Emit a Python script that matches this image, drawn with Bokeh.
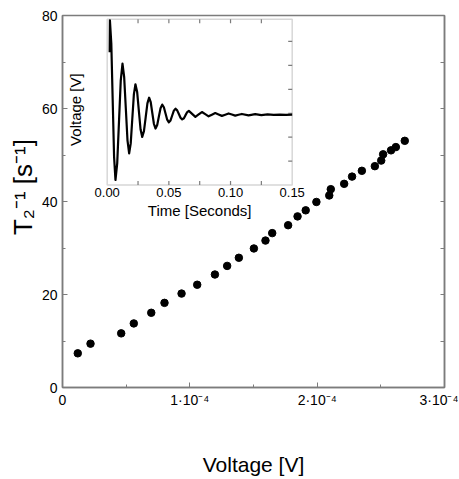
from bokeh.plotting import figure
from bokeh.models import (Range1d, FixedTicker, LinearAxis, CustomJSTickFormatter,
                          BoxAnnotation, Label)
from bokeh.embed import file_html
from bokeh.resources import INLINE
import math

# ---------------- data ----------------
voltage = [0.120e-4, 0.220e-4, 0.461e-4, 0.560e-4, 0.697e-4, 0.801e-4, 0.935e-4,
           1.058e-4, 1.197e-4, 1.293e-4, 1.385e-4, 1.503e-4, 1.594e-4, 1.647e-4,
           1.772e-4, 1.846e-4, 1.910e-4, 1.994e-4, 2.095e-4, 2.107e-4, 2.212e-4,
           2.274e-4, 2.351e-4, 2.453e-4, 2.503e-4, 2.518e-4, 2.580e-4, 2.618e-4,
           2.688e-4]
rate = [7.35, 9.43, 11.64, 13.78, 16.07, 18.2, 20.2, 22.1, 24.3, 26.15, 27.9,
        29.9, 31.6, 33.2, 34.9, 36.8, 38.1, 39.9, 41.3, 42.65, 43.8, 45.35, 46.6,
        47.6, 48.8, 50.15, 51.0, 51.7, 53.05]

sig_t = [0.0020, 0.0022, 0.00333, 0.00445, 0.00558, 0.0067, 0.00813, 0.00955,
         0.01098, 0.0124, 0.01375, 0.0151, 0.01645, 0.0178, 0.01908, 0.02035,
         0.02163, 0.0229, 0.02428, 0.02565, 0.02703, 0.0284, 0.0298, 0.0312,
         0.0326, 0.0340, 0.0353, 0.0366, 0.0379, 0.0392, 0.04055, 0.0419,
         0.04325, 0.0446, 0.04595, 0.0473, 0.04865, 0.0500, 0.05135, 0.0527,
         0.05405, 0.0554, 0.05675, 0.0581, 0.05945, 0.0608, 0.0622, 0.0635,
         0.0649, 0.0662, 0.06885, 0.0715, 0.07415, 0.0768, 0.0795, 0.0822,
         0.0849, 0.0876, 0.0903, 0.0930, 0.0957, 0.0984, 0.1011, 0.1038,
         0.1065, 0.1092, 0.1146, 0.120, 0.125, 0.130, 0.135, 0.140, 0.145, 0.150]
sig_v = [5.55, 6.88, 5.91, 3.55, 1.18, 0.21, 0.92, 2.64, 4.36, 5.07, 4.52, 3.20,
         1.87, 1.32, 1.74, 2.77, 3.79, 4.21, 3.89, 3.11, 2.33, 2.01, 2.25, 2.83,
         3.41, 3.65, 3.46, 3.00, 2.55, 2.36, 2.51, 2.86, 3.21, 3.36, 3.25, 2.99,
         2.73, 2.62, 2.70, 2.905, 3.11, 3.19, 3.12, 2.965, 2.81, 2.74, 2.79, 2.92,
         3.05, 3.10, 2.975, 2.85, 2.95, 3.05, 2.96, 2.87, 2.94, 3.01, 2.95, 2.89,
         2.94, 2.99, 2.945, 2.90, 2.935, 2.97, 2.91, 2.96, 2.92, 2.95, 2.93, 2.94,
         2.93, 2.94]

x_ticks = [0, 1e-4, 2e-4, 3e-4]
x_tick_labels = ["0", "1·10⁻⁴", "2·10⁻⁴", "3·10⁻⁴"]
x_minor = [0.5e-4, 1.5e-4, 2.5e-4]
y_ticks = [0, 20, 40, 60, 80]
y_minor = [10, 30, 50, 70]
y_right_ticks = [0, 10, 20, 30, 40, 50, 60, 70, 80]
x_title = "Voltage [V]"
y_title = "T₂⁻¹ [s⁻¹]"

inset_x_ticks = [0.0, 0.05, 0.10, 0.15]
inset_x_labels = ["0.00", "0.05", "0.10", "0.15"]
inset_x_marks = [0.025, 0.05, 0.075, 0.10, 0.125]
inset_y_marks = [1, 2, 3, 4, 5, 6]
inset_x_title = "Time [Seconds]"
inset_y_title = "Voltage [V]"

# ---------------- layout constants ----------------
FONT = "Liberation Sans"
GRAY = "#7c7c7c"
W, H = 458, 478
ML, MR, MT, MB = 62, 14, 15, 90
FW, FH = W - ML - MR, H - MT - MB          # frame size in px
# inset box inside the frame (px from frame left/top)
IL, IR, IT, IB = 44.7, 229.7, 3.7, 170.0
T0, T1 = 0.0, 0.15
V0, VPX = 0.0, 24.0
V1 = V0 + (IB - IT) / VPX
kt = (T1 - T0) / (IR - IL)
tx_start, tx_end = T0 - IL * kt, T1 + (FW - IR) * kt
ty_start, ty_end = V0 - (FH - IB) / VPX, V1 + IT / VPX

p = figure(width=W, height=H, x_range=Range1d(0, 3e-4), y_range=Range1d(0, 80),
           output_backend="svg", toolbar_location=None,
           min_border_left=ML, min_border_right=MR, min_border_top=MT,
           min_border_bottom=MB)
p.extra_x_ranges = {"tx": Range1d(tx_start, tx_end)}
p.extra_y_ranges = {"ty": Range1d(ty_start, ty_end)}
p.xgrid.visible = False
p.ygrid.visible = False
p.outline_line_color = GRAY
p.outline_line_width = 1.5
p.background_fill_color = "white"
p.border_fill_color = "white"

empty = CustomJSTickFormatter(code="return ''")
xfmt = CustomJSTickFormatter(args=dict(vals=x_ticks, labs=x_tick_labels), code="""
    for (let i = 0; i < vals.length; i++) {
        if (Math.abs(vals[i] - tick) < 1e-12) return labs[i];
    }
    return '';
""")

xa = p.xaxis[0]
xa.ticker = FixedTicker(ticks=x_ticks, minor_ticks=x_minor)
xa.formatter = xfmt
xa.major_tick_in, xa.major_tick_out = 5, 0
xa.minor_tick_in, xa.minor_tick_out = 3, 0
xa.axis_line_color = GRAY
xa.axis_line_width = 1.5
xa.major_tick_line_color = GRAY
xa.minor_tick_line_color = GRAY
xa.major_label_standoff = 4
xa.major_label_text_font = FONT
xa.major_label_text_font_size = "14px"
xa.major_label_text_color = "black"
xa.axis_label = x_title
xa.axis_label_text_font = FONT
xa.axis_label_text_font_size = "21px"
xa.axis_label_text_font_style = "normal"
xa.axis_label_text_color = "black"
xa.axis_label_standoff = 42

ya = p.yaxis[0]
ya.ticker = FixedTicker(ticks=y_ticks, minor_ticks=y_minor)
ya.major_tick_in, ya.major_tick_out = 5, 0
ya.minor_tick_in, ya.minor_tick_out = 3, 0
ya.axis_line_color = GRAY
ya.axis_line_width = 1.5
ya.major_tick_line_color = GRAY
ya.minor_tick_line_color = GRAY
ya.major_label_standoff = 5
ya.major_label_text_font = FONT
ya.major_label_text_font_size = "14px"
ya.major_label_text_color = "black"
# leading no-break spaces shift the centred title upwards, as in the reference
ya.axis_label = "\u00a0\u00a0\u00a0\u00a0" + y_title
ya.axis_label_text_font = FONT
ya.axis_label_text_font_size = "26px"
ya.axis_label_text_font_style = "normal"
ya.axis_label_text_color = "black"
ya.axis_label_standoff = 1

ra = LinearAxis(ticker=FixedTicker(ticks=y_right_ticks), formatter=empty,
                major_tick_in=4, major_tick_out=0, minor_tick_in=0, minor_tick_out=0,
                axis_line_color=GRAY, axis_line_width=1.5,
                major_tick_line_color=GRAY, major_label_standoff=0)
p.add_layout(ra, "right")

# scatter
p.scatter(voltage, rate, size=7.5, color="black")

# ---------------- inset ----------------
p.add_layout(BoxAnnotation(left=T0, right=T1, bottom=V0, top=V1,
                           x_range_name="tx", y_range_name="ty",
                           fill_color="white", fill_alpha=1.0,
                           line_color=GRAY, line_width=1.5, level="underlay"))
dt = 4 * kt
dv = 4 / VPX
p.segment(x0=inset_x_marks, y0=[V0] * len(inset_x_marks), x1=inset_x_marks,
          y1=[V0 + dv] * len(inset_x_marks), x_range_name="tx", y_range_name="ty",
          line_color=GRAY, line_width=1.2)
p.segment(x0=inset_x_marks, y0=[V1] * len(inset_x_marks), x1=inset_x_marks,
          y1=[V1 - dv] * len(inset_x_marks), x_range_name="tx", y_range_name="ty",
          line_color=GRAY, line_width=1.2)
p.segment(x0=[T1] * len(inset_y_marks), y0=inset_y_marks, x1=[T1 - dt] * len(inset_y_marks),
          y1=inset_y_marks, x_range_name="tx", y_range_name="ty",
          line_color=GRAY, line_width=1.2)

p.line(sig_t, sig_v, x_range_name="tx", y_range_name="ty", line_color="black",
       line_width=2.2, line_join="round")

for xv, lab in zip(inset_x_ticks, inset_x_labels):
    p.add_layout(Label(x=xv, y=V0, text=lab, x_range_name="tx", y_range_name="ty",
                       text_align="center", text_baseline="top", y_offset=-2.5,
                       text_font=FONT, text_font_size="13px", text_color="black"))
p.add_layout(Label(x=(T0 + T1) / 2, y=V0, text=inset_x_title, x_range_name="tx",
                   y_range_name="ty", text_align="center", text_baseline="middle",
                   y_offset=-25, text_font=FONT, text_font_size="15px",
                   text_color="black"))
p.add_layout(Label(x=T0, y=(V0 + V1) / 2, text=inset_y_title, x_range_name="tx",
                   y_range_name="ty", angle=math.pi / 2, text_align="center",
                   text_baseline="middle", x_offset=-31.5, y_offset=-7.5,
                   text_font=FONT, text_font_size="15px", text_color="black"))

open("out.html", "w").write(file_html(p, INLINE))
